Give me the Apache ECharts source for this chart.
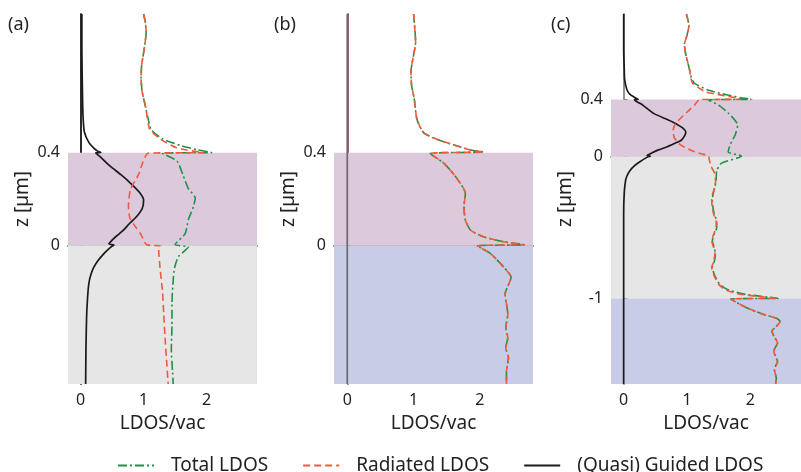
<!DOCTYPE html>
<html>
<head>
<meta charset="utf-8">
<title>LDOS profiles</title>
<script src="https://cdn.jsdelivr.net/npm/echarts@6/dist/echarts.min.js"></script>
<style>
  html, body { margin: 0; padding: 0; background: #fff; }
  #chart { width: 801px; height: 472px; }
</style>
</head>
<body>
<div id="chart"></div>
<script>
  // every point is [LDOS/vac, z in µm]

  // (a)
  var aGuided = [
    [0.02, 1.0], [0.02, 0.85], [0.03, 0.65], [0.04, 0.55], [0.06, 0.49], [0.13, 0.445], [0.21, 0.42],
    [0.27, 0.407], [0.32, 0.401], [0.24, 0.399], [0.3, 0.385], [0.47, 0.342], [0.64, 0.305], [0.79, 0.269],
    [0.93, 0.23], [1.0, 0.196], [0.98, 0.16], [0.89, 0.124], [0.78, 0.095], [0.68, 0.065], [0.57, 0.04],
    [0.5, 0.022], [0.45, 0.006], [0.53, 0.001], [0.5, -0.004], [0.43, -0.02], [0.37, -0.036], [0.28, -0.065],
    [0.21, -0.095], [0.16, -0.13], [0.13, -0.167], [0.11, -0.23], [0.095, -0.31], [0.085, -0.45], [0.08, -0.6]
  ];
  var aRadiated = [
    [1.0, 1.0], [1.03, 0.96], [1.04, 0.92], [1.01, 0.85], [0.97, 0.78], [0.96, 0.72], [0.98, 0.66],
    [1.03, 0.6], [1.06, 0.55], [1.1, 0.5], [1.26, 0.46], [1.53, 0.42], [1.79, 0.407], [1.95, 0.401],
    [1.07, 0.398], [0.99, 0.36], [0.92, 0.306], [0.79, 0.24], [0.76, 0.17], [0.78, 0.12], [0.87, 0.08],
    [0.95, 0.05], [1.05, 0.002], [1.27, -0.003], [1.24, -0.02], [1.26, -0.095], [1.3, -0.2], [1.32, -0.3],
    [1.34, -0.4], [1.37, -0.52], [1.39, -0.6]
  ];
  var aTotal = [
    [1.0, 1.0], [1.03, 0.96], [1.04, 0.92], [1.01, 0.85], [0.97, 0.78], [0.96, 0.72], [0.98, 0.66],
    [1.03, 0.6], [1.07, 0.55], [1.12, 0.5], [1.3, 0.46], [1.6, 0.43], [1.85, 0.413], [2.08, 0.401],
    [1.29, 0.398], [1.53, 0.364], [1.63, 0.3], [1.71, 0.245], [1.82, 0.205], [1.79, 0.166], [1.71, 0.11],
    [1.66, 0.05], [1.5, 0.003], [1.71, -0.008], [1.55, -0.05], [1.49, -0.1], [1.47, -0.15], [1.45, -0.25],
    [1.45, -0.35], [1.44, -0.45], [1.46, -0.55], [1.47, -0.6]
  ];

  // (b)  guided part is zero, total and radiated coincide
  var bGuided = [[0, 1.0], [0, -0.6]];
  var bRadiated = [
    [1.0, 1.0], [1.03, 0.88], [0.96, 0.749], [0.97, 0.69], [1.01, 0.633], [1.05, 0.545], [1.15, 0.487],
    [1.35, 0.458], [1.66, 0.429], [1.86, 0.412], [2.06, 0.403], [1.25, 0.397], [1.45, 0.356], [1.63, 0.298],
    [1.78, 0.225], [1.76, 0.167], [1.78, 0.109], [1.86, 0.065], [2.06, 0.036], [2.36, 0.015], [2.67, 0.002],
    [1.96, -0.003], [2.16, -0.036], [2.36, -0.095], [2.47, -0.138], [2.38, -0.211], [2.42, -0.298],
    [2.39, -0.356], [2.42, -0.4], [2.39, -0.444], [2.43, -0.487], [2.4, -0.545], [2.4, -0.6]
  ];
  var bTotal = [
    [1.0, 1.0], [1.03, 0.88], [0.96, 0.749], [0.97, 0.69], [1.01, 0.633], [1.05, 0.545], [1.15, 0.487],
    [1.35, 0.458], [1.66, 0.429], [1.86, 0.412], [2.06, 0.403], [1.25, 0.397], [1.45, 0.356], [1.63, 0.298],
    [1.78, 0.225], [1.76, 0.167], [1.78, 0.109], [1.86, 0.065], [2.06, 0.036], [2.36, 0.015], [2.67, 0.002],
    [1.96, -0.003], [2.16, -0.036], [2.36, -0.095], [2.47, -0.138], [2.38, -0.211], [2.42, -0.298],
    [2.39, -0.356], [2.42, -0.4], [2.39, -0.444], [2.43, -0.487], [2.4, -0.545], [2.4, -0.6]
  ];

  // (c)
  var cGuided = [
    [0.0, 1.0], [0.0, 0.75], [0.01, 0.6], [0.015, 0.54], [0.05, 0.47], [0.1, 0.435], [0.15, 0.42],
    [0.21, 0.405], [0.23, 0.401], [0.17, 0.398], [0.3, 0.36], [0.48, 0.3], [0.68, 0.26], [0.78, 0.24],
    [0.93, 0.2], [0.98, 0.17], [0.97, 0.15], [0.91, 0.113], [0.8, 0.09], [0.68, 0.066], [0.55, 0.045],
    [0.45, 0.025], [0.37, 0.006], [0.42, 0.001], [0.38, -0.004], [0.25, -0.04], [0.16, -0.07], [0.1, -0.1],
    [0.05, -0.14], [0.03, -0.17], [0.01, -0.25], [0.0, -0.4], [0.0, -1.0], [0.0, -1.6]
  ];
  var cRadiated = [
    [0.99, 1.0], [1.03, 0.92], [1.0, 0.85], [0.96, 0.79], [0.97, 0.74], [1.0, 0.68], [1.04, 0.61],
    [1.06, 0.55], [1.09, 0.513], [1.29, 0.454], [1.54, 0.43], [1.79, 0.41], [1.85, 0.401], [1.2, 0.398],
    [1.12, 0.36], [0.95, 0.29], [0.82, 0.23], [0.78, 0.18], [0.8, 0.13], [0.9, 0.08], [1.05, 0.045],
    [1.22, 0.018], [1.34, 0.002], [1.35, -0.02], [1.38, -0.07], [1.44, -0.122], [1.45, -0.17], [1.44, -0.216],
    [1.4, -0.27], [1.39, -0.311], [1.4, -0.36], [1.42, -0.405], [1.46, -0.46], [1.46, -0.5], [1.42, -0.55],
    [1.39, -0.593], [1.42, -0.64], [1.44, -0.687], [1.42, -0.74], [1.39, -0.781], [1.43, -0.84], [1.5, -0.9],
    [1.62, -0.94], [1.84, -0.969], [2.24, -0.99], [2.44, -0.998], [1.69, -1.003], [1.94, -1.064], [2.2, -1.11],
    [2.42, -1.14], [2.47, -1.16], [2.4, -1.2], [2.34, -1.228], [2.38, -1.27], [2.43, -1.31], [2.37, -1.37],
    [2.4, -1.41], [2.43, -1.44], [2.38, -1.5], [2.41, -1.56], [2.4, -1.6]
  ];
  var cTotal = [
    [0.99, 1.0], [1.03, 0.92], [1.0, 0.85], [0.96, 0.79], [0.97, 0.74], [1.0, 0.68], [1.04, 0.61],
    [1.07, 0.55], [1.12, 0.513], [1.33, 0.466], [1.64, 0.431], [1.85, 0.412], [2.02, 0.401], [1.33, 0.397],
    [1.5, 0.36], [1.66, 0.3], [1.8, 0.22], [1.76, 0.15], [1.68, 0.08], [1.65, 0.03], [1.86, 0.002],
    [1.54, -0.05], [1.47, -0.1], [1.46, -0.17], [1.44, -0.216], [1.41, -0.27], [1.4, -0.311], [1.41, -0.36],
    [1.43, -0.405], [1.47, -0.46], [1.47, -0.5], [1.43, -0.55], [1.4, -0.593], [1.43, -0.64], [1.45, -0.687],
    [1.43, -0.74], [1.4, -0.781], [1.44, -0.84], [1.52, -0.9], [1.66, -0.94], [1.92, -0.97], [2.3, -0.99],
    [2.44, -0.998], [1.69, -1.003], [1.94, -1.064], [2.2, -1.11], [2.42, -1.14], [2.47, -1.16], [2.4, -1.2],
    [2.34, -1.228], [2.38, -1.27], [2.43, -1.31], [2.37, -1.37], [2.4, -1.41], [2.43, -1.44], [2.38, -1.5],
    [2.41, -1.56], [2.4, -1.6]
  ];

  // layers: [material, z from, z to]
  var layersA = [['film', 0, 0.4], ['oxide', -0.6, 0]];
  var layersB = [['film', 0, 0.4], ['substrate', -0.6, 0]];
  var layersC = [['film', 0, 0.4], ['oxide', -1, 0], ['substrate', -1.6, -1]];

  var xTicks = [0, 1, 2];
  var zTicksAB = [0, 0.4];
  var zTicksC = [-1, 0, 0.4];
  var xRange = [-0.2, 2.8];
  var zRangeAB = [-0.6, 1.0];
  var zRangeC = [-1.6, 1.0];

  var FONT = 'Noto Sans';
  var fills = { film: '#dcc9dc', oxide: '#e6e6e6', substrate: '#c8cce6' };
  var GREEN = '#1f9149';
  var RED = '#f05a3c';

  var panels = [
    { label: '(a)', left: 68, width: 189, zRange: zRangeAB, zTicks: zTicksAB, layers: layersA,
      guided: aGuided, radiated: aRadiated, total: aTotal, guidedColor: '#1a1a1a',
      frame: { left: '#222', bottom: '#333', top: '#8c8c8c', right: '#1e1e1e' } },
    { label: '(b)', left: 334, width: 199, zRange: zRangeAB, zTicks: zTicksAB, layers: layersB,
      guided: bGuided, radiated: bRadiated, total: bTotal, guidedColor: '#6a6a6a',
      frame: { left: '#8a5a4e', bottom: '#8a8a8a', top: '#8a5a4e', right: '#8a5a4e' } },
    { label: '(c)', left: 611, width: 199, zRange: zRangeC, zTicks: zTicksC, layers: layersC,
      guided: cGuided, radiated: cRadiated, total: cTotal, guidedColor: '#1a1a1a',
      frame: { left: '#555', bottom: '#8a8a8a', top: '#9a9a9a', right: '#9a9a9a' } }
  ];

  var grids = [], xAxes = [], yAxes = [], series = [], titles = [];

  panels.forEach(function (p, i) {
    grids.push({ left: p.left, top: 14, width: p.width, height: 370 });
    titles.push({
      text: p.label, left: p.left - 60, top: 16, padding: 0,
      textStyle: { fontFamily: FONT, fontSize: 18, fontWeight: 'normal', color: '#222' }
    });

    // bottom axis
    xAxes.push({
      type: 'value', gridIndex: i, position: 'bottom', min: xRange[0], max: xRange[1],
      splitLine: { show: false },
      axisLine: { lineStyle: { color: p.frame.bottom, width: 1.5 } },
      axisTick: { inside: true, length: 4, customValues: xTicks, lineStyle: { color: '#444' } },
      axisLabel: { customValues: xTicks, fontFamily: FONT, fontSize: 16, color: '#222', margin: 8 },
      name: 'LDOS/vac', nameLocation: 'middle', nameGap: 30,
      nameTextStyle: { fontFamily: FONT, fontSize: 19, color: '#222' }
    });
    // left axis
    yAxes.push({
      type: 'value', gridIndex: i, position: 'left', min: p.zRange[0], max: p.zRange[1],
      splitLine: { show: false },
      axisLine: { lineStyle: { color: p.frame.left, width: 1.5 } },
      axisTick: { inside: true, length: 4, customValues: p.zTicks, lineStyle: { color: '#444' } },
      axisLabel: { customValues: p.zTicks, fontFamily: FONT, fontSize: 16, color: '#222', margin: 8 },
      name: 'z [µm]', nameLocation: 'middle', nameGap: 36,
      nameTextStyle: { fontFamily: FONT, fontSize: 19, color: '#222' }
    });

    series.push({
      type: 'line', xAxisIndex: i, yAxisIndex: i, data: [], silent: true, z: 1,
      markArea: {
        silent: true,
        data: p.layers.map(function (l) {
          return [{ yAxis: l[1], itemStyle: { color: fills[l[0]], opacity: 1 } }, { yAxis: l[2] }];
        })
      }
    });
    series.push({
      name: '(Quasi) Guided LDOS', type: 'line', xAxisIndex: i, yAxisIndex: i, data: p.guided,
      showSymbol: false, symbol: 'none', smooth: 0.2, z: 3, color: p.guidedColor,
      lineStyle: { color: p.guidedColor, width: 1.7 }
    });
    series.push({
      name: 'Total LDOS', type: 'line', xAxisIndex: i, yAxisIndex: i, data: p.total,
      showSymbol: false, symbol: 'none', smooth: 0.2, z: 4, color: GREEN,
      lineStyle: { color: GREEN, width: 1.6, type: [9, 3, 2, 3] }
    });
    series.push({
      name: 'Radiated LDOS', type: 'line', xAxisIndex: i, yAxisIndex: i, data: p.radiated,
      showSymbol: false, symbol: 'none', smooth: 0.2, z: 5, color: RED,
      lineStyle: { color: RED, width: 1.6, type: [7, 4] }
    });
  });

  // top and right frame lines
  panels.forEach(function (p, i) {
    xAxes.push({
      type: 'value', gridIndex: i, position: 'top', min: xRange[0], max: xRange[1],
      splitLine: { show: false }, axisTick: { show: false }, axisLabel: { show: false },
      axisLine: { lineStyle: { color: p.frame.top, width: 1.5 } }
    });
    yAxes.push({
      type: 'value', gridIndex: i, position: 'right', min: p.zRange[0], max: p.zRange[1],
      splitLine: { show: false }, axisTick: { show: false }, axisLabel: { show: false },
      axisLine: { lineStyle: { color: p.frame.right, width: 1.5 } }
    });
  });

  var chart = echarts.init(document.getElementById('chart'));
  chart.setOption({
    backgroundColor: '#fff',
    animation: false,
    title: titles,
    grid: grids,
    xAxis: xAxes,
    yAxis: yAxes,
    legend: {
      data: ['Total LDOS', 'Radiated LDOS', '(Quasi) Guided LDOS'],
      left: 112, top: 451, itemWidth: 36, itemHeight: 14, itemGap: 34,
      itemStyle: { opacity: 0 },
      lineStyle: { width: 2 },
      textStyle: { fontFamily: FONT, fontSize: 19, color: '#222', padding: [0, 0, 0, 12] }
    },
    series: series
  });
  window.addEventListener('resize', function () {
    chart.resize();
  });
</script>
</body>
</html>
